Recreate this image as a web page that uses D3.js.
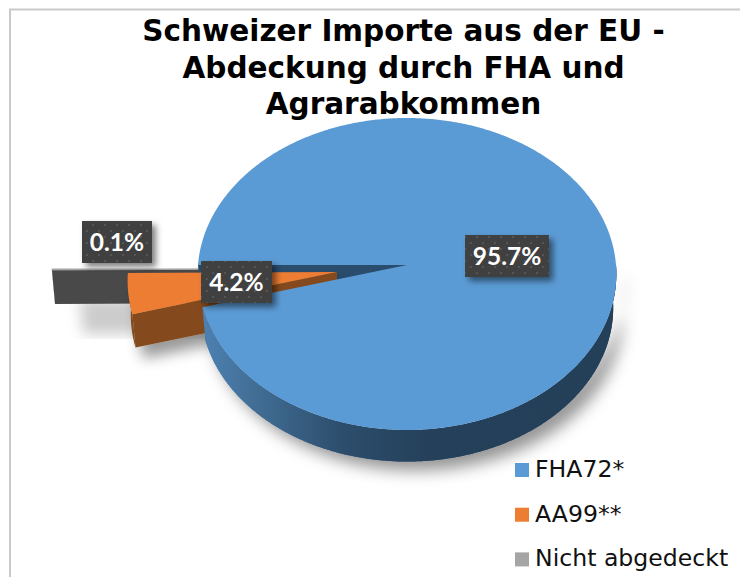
<!DOCTYPE html>
<html><head><meta charset="utf-8">
<script src="https://cdn.jsdelivr.net/npm/d3@7"></script>
<style>html,body{margin:0;padding:0;background:#fff}svg{display:block}</style>
</head><body><svg id="c" width="740" height="577"></svg>
<script>
const titleLines = ["Schweizer Importe aus der EU -", "Abdeckung durch FHA und", "Agrarabkommen"];
const categories = ["FHA72*", "AA99**", "Nicht abgedeckt"];
const values = [95.7, 4.2, 0.1];
const labels = ["95.7%", "4.2%", "0.1%"];

const topColors = ["#5b9bd5", "#ed7d31", "#a5a5a5"];
const wallColors = ["#2a4d6e", "#84481a", "#484848"];
const apexes = [[407, 265], [337, 272], [261, 269]];
const labelBoxes = [[465, 235, 84, 42], [201, 261, 71, 42], [82, 221, 70, 42]];
const RX = 209, RY = 155.5, K = 0.0577, DEPTH = 34, SHRINK = 0.985;

const svg = d3.select("#c");
const defs = svg.append("defs");

function shadow(id, dx, dy, blur, op) {
  const f = defs.append("filter").attr("id", id)
    .attr("x", "-30%").attr("y", "-60%").attr("width", "170%").attr("height", "260%");
  f.append("feDropShadow").attr("dx", dx).attr("dy", dy).attr("stdDeviation", blur)
    .attr("flood-color", "#000").attr("flood-opacity", op);
}
shadow("pieShadow", 9, 9, 8, 0.42);
shadow("orangeShadow", 8, 11, 7, 0.4);
shadow("grayShadow", 28, 30, 7, 0.2);
shadow("boxShadow", 4, 4, 3, 0.5);

const rim = defs.append("linearGradient").attr("id", "rim")
  .attr("gradientUnits", "userSpaceOnUse").attr("x1", 198).attr("x2", 616).attr("y1", 0).attr("y2", 0);
[[0, "#4d83b6"], [0.12, "#437098"], [0.35, "#2c4d6c"], [0.55, "#25405a"], [1, "#243f58"]]
  .forEach(s => rim.append("stop").attr("offset", s[0]).attr("stop-color", s[1]));

const pat = defs.append("pattern").attr("id", "dots").attr("patternUnits", "userSpaceOnUse")
  .attr("width", 12).attr("height", 12);
pat.append("rect").attr("width", 12).attr("height", 12).attr("fill", "#404040");
pat.append("circle").attr("cx", 3).attr("cy", 3).attr("r", 1).attr("fill", "#5c5c5c");
pat.append("circle").attr("cx", 9).attr("cy", 9).attr("r", 1).attr("fill", "#5c5c5c");

// frame
svg.append("path").attr("d", "M10,577V9.5H740").attr("fill", "none").attr("stroke", "#c9c9c9").attr("stroke-width", 2);

// slice angles from the data
const pie = d3.pie().sort(null).value(d => d)
  .startAngle(1.5 * Math.PI).endAngle(3.5 * Math.PI);
const arcs = pie(values);

function project(i, a, r, z) {
  const [ax, ay] = apexes[i];
  const s = z ? SHRINK : 1;
  const u = Math.sin(a) * r, v = -Math.cos(a) * r, w = 1 - K * v;
  return [ax + RX * s * u / w, ay + (z ? DEPTH : 0) + RY * s * v / w];
}
const line = d3.line();
const sweep = (a0, a1, step) => {
  const n = Math.max(2, Math.ceil(Math.abs(a1 - a0) / step));
  return d3.range(n + 1).map(k => a0 + (a1 - a0) * k / n);
};
const topPath = i => {
  const d = arcs[i];
  return line([project(i, 0, 0, 0), ...sweep(d.startAngle, d.endAngle, 0.01).map(a => project(i, a, 1, 0))]) + "Z";
};
const wallPath = (i, a) => line([project(i, a, 0, 0), project(i, a, 1, 0), project(i, a, 1, 1), project(i, a, 0, 1)]) + "Z";
const rimPath = (i, a0, a1) => {
  const as = sweep(a0, a1, 0.01);
  return line([...as.map(a => project(i, a, 1, 0)), ...as.slice().reverse().map(a => project(i, a, 1, 1))]) + "Z";
};

// gray slice
const g2 = svg.append("g").attr("filter", "url(#grayShadow)");
g2.append("path").attr("d", wallPath(2, arcs[2].startAngle)).attr("fill", wallColors[2]);
g2.append("path").attr("d", rimPath(2, arcs[2].startAngle, arcs[2].endAngle)).attr("fill", wallColors[2]);
g2.append("path").attr("d", topPath(2)).attr("fill", topColors[2]).attr("stroke", topColors[2]);

// blue slice: shadow + inner wall at back
const g0 = svg.append("g").attr("filter", "url(#pieShadow)");
g0.append("path").attr("d", wallPath(0, arcs[0].startAngle)).attr("fill", wallColors[0]);
g0.append("path").attr("d", rimPath(0, 2.5 * Math.PI, arcs[0].endAngle)).attr("fill", "url(#rim)");

// orange slice
const g1 = svg.append("g").attr("filter", "url(#orangeShadow)");
g1.append("path").attr("d", wallPath(1, arcs[1].startAngle)).attr("fill", wallColors[1]);
g1.append("path").attr("d", rimPath(1, arcs[1].startAngle, arcs[1].endAngle)).attr("fill", wallColors[1]);
g1.append("path").attr("d", topPath(1)).attr("fill", topColors[1]);

// blue top over orange's wall
svg.append("path").attr("d", rimPath(0, 2.5 * Math.PI, arcs[0].endAngle)).attr("fill", "url(#rim)");
svg.append("path").attr("d", topPath(0)).attr("fill", topColors[0]);

// title
svg.append("g").selectAll("text").data(titleLines).join("text")
  .attr("x", 403.5).attr("y", (d, i) => 41 + i * 36.5)
  .attr("text-anchor", "middle")
  .attr("font-family", "DejaVu Sans").attr("font-weight", 700).attr("font-size", 29.5)
  .attr("fill", "#000").text(d => d);

// data labels
const lab = svg.append("g").selectAll("g").data(labels).join("g");
lab.append("rect")
  .attr("x", (d, i) => labelBoxes[i][0]).attr("y", (d, i) => labelBoxes[i][1])
  .attr("width", (d, i) => labelBoxes[i][2]).attr("height", (d, i) => labelBoxes[i][3])
  .attr("fill", "url(#dots)").attr("filter", "url(#boxShadow)");
lab.append("text")
  .attr("x", (d, i) => labelBoxes[i][0] + labelBoxes[i][2] / 2)
  .attr("y", (d, i) => labelBoxes[i][1] + 30)
  .attr("text-anchor", "middle")
  .attr("font-family", "Lato").attr("font-weight", 700).attr("font-size", 24.5)
  .attr("fill", "#fff").text(d => d);

// legend
const leg = svg.append("g").selectAll("g").data(categories).join("g")
  .attr("transform", (d, i) => `translate(515,${463 + i * 44.7})`);
leg.append("rect").attr("width", 14).attr("height", 14).attr("fill", (d, i) => topColors[i]);
leg.append("text").attr("x", 20).attr("y", 14)
  .attr("font-family", "DejaVu Sans").attr("font-size", 23.6).attr("fill", "#111").text(d => d);
</script></body></html>
